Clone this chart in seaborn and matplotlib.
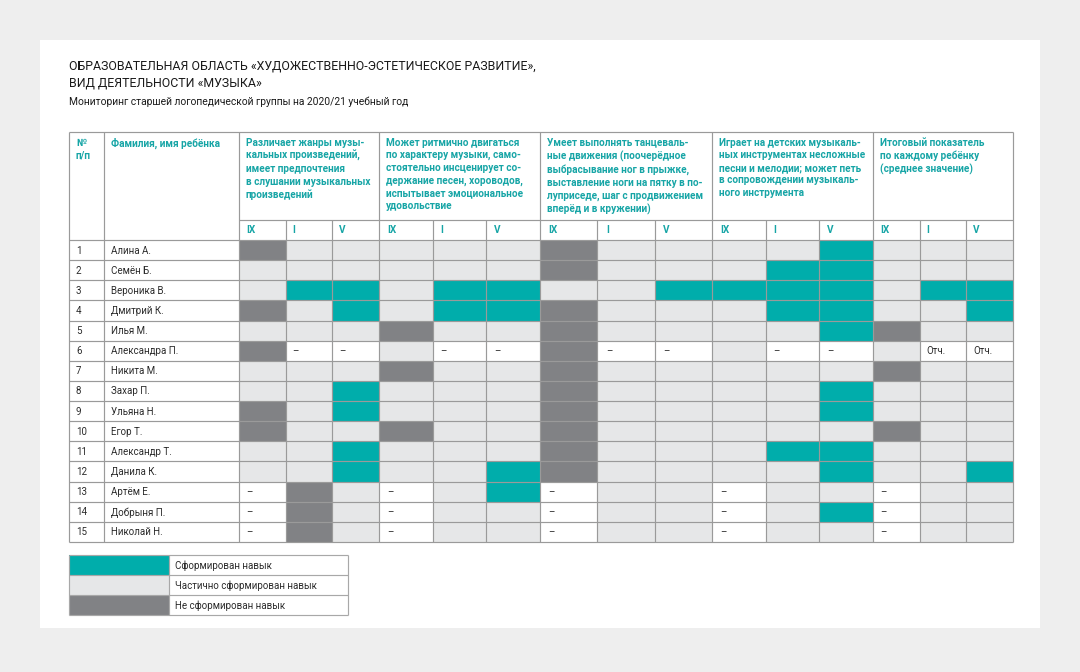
import numpy as np
import matplotlib
matplotlib.use("Agg")
import matplotlib.pyplot as plt
from matplotlib.colors import ListedColormap
from matplotlib.patches import Rectangle
import seaborn as sns

sns.set_style("white")
plt.rcParams['font.family'] = ['Roboto', 'DejaVu Sans']

# ---------------- data ----------------
title_lines = ["ОБРАЗОВАТЕЛЬНАЯ ОБЛАСТЬ «ХУДОЖЕСТВЕННО-ЭСТЕТИЧЕСКОЕ РАЗВИТИЕ»,",
               "ВИД ДЕЯТЕЛЬНОСТИ «МУЗЫКА»"]
subtitle = "Мониторинг старшей логопедической группы на 2020/21 учебный год"

numbers = [str(i) for i in range(1, 16)]
names = ["Алина А.", "Семён Б.", "Вероника В.", "Дмитрий К.", "Илья М.",
         "Александра П.", "Никита М.", "Захар П.", "Ульяна Н.", "Егор Т.",
         "Александр Т.", "Данила К.", "Артём Е.", "Добрыня П.", "Николай Н."]
periods = ["IX", "I", "V"]

skill_titles = [
    "Различает жанры музы-\nкальных произведений,\nимеет предпочтения\nв слушании музыкальных\nпроизведений",
    "Может ритмично двигаться\nпо характеру музыки, само-\nстоятельно инсценирует со-\nдержание песен, хороводов,\nиспытывает эмоциональное\nудовольствие",
    "Умеет выполнять танцеваль-\nные движения (поочерёдное\nвыбрасывание ног в прыжке,\nвыставление ноги на пятку в по-\nлуприседе, шаг с продвижением\nвперёд и в кружении)",
    "Играет на детских музыкаль-\nных инструментах несложные\nпесни и мелодии; может петь\nв сопровождении музыкаль-\nного инструмента",
    "Итоговый показатель\nпо каждому ребёнку\n(среднее значение)",
]

# codes: 2 = сформирован, 1 = частично, 0 = не сформирован, -1 = «–», -2 = «Отч.»
skill1 = [[0, 1, 1], [1, 1, 1], [1, 2, 2], [0, 1, 2], [1, 1, 1],
          [0, -1, -1], [1, 1, 1], [1, 1, 2], [0, 1, 2], [0, 1, 1],
          [1, 1, 2], [1, 1, 2], [-1, 0, 1], [-1, 0, 1], [-1, 0, 1]]
skill2 = [[1, 1, 1], [1, 1, 1], [1, 2, 2], [1, 2, 2], [0, 1, 1],
          [1, -1, -1], [0, 1, 1], [1, 1, 1], [1, 1, 1], [0, 1, 1],
          [1, 1, 1], [1, 1, 2], [-1, 1, 2], [-1, 1, 1], [-1, 1, 1]]
skill3 = [[0, 1, 1], [0, 1, 1], [1, 1, 2], [0, 1, 1], [0, 1, 1],
          [0, -1, -1], [0, 1, 1], [0, 1, 1], [0, 1, 1], [0, 1, 1],
          [0, 1, 1], [0, 1, 1], [-1, 1, 1], [-1, 1, 1], [-1, 1, 1]]
skill4 = [[1, 1, 2], [1, 2, 2], [2, 2, 2], [1, 2, 2], [1, 1, 2],
          [1, -1, -1], [1, 1, 1], [1, 1, 2], [1, 1, 2], [1, 1, 1],
          [1, 2, 2], [1, 1, 2], [-1, 1, 1], [-1, 1, 2], [-1, 1, 1]]
total = [[1, 1, 1], [1, 1, 1], [1, 2, 2], [1, 1, 2], [0, 1, 1],
         [1, -2, -2], [0, 1, 1], [1, 1, 1], [1, 1, 1], [0, 1, 1],
         [1, 1, 1], [1, 1, 2], [-1, 1, 1], [-1, 1, 1], [-1, 1, 1]]
groups = [skill1, skill2, skill3, skill4, total]

legend_codes = [2, 1, 0]
legend_labels = ["Сформирован навык", "Частично сформирован навык", "Не сформирован навык"]
cell_labels = {-1: "–", -2: "Отч."}

# ---------------- style / layout ----------------
W, H = 1080, 672
TEAL = "#00adab"
LIGHT = "#e6e7e8"
DARK = "#818285"
GRID = "#9a9a9a"
HEAD = "#17a5a6"
TXT = "#2b2b2b"
cmap = ListedColormap(["white", "white", DARK, LIGHT, TEAL])

table_left, num_right, name_right = 69, 104, 239
group_edges = [239, 379, 540, 712, 873, 1013]
head_top, sub_top, body_top, body_bot = 132, 220, 240, 542


def frac(x0, y0, x1, y1):
    return [x0 / W, 1 - y1 / H, (x1 - x0) / W, (y1 - y0) / H]


fig = plt.figure(figsize=(W / 100, H / 100), dpi=100, facecolor="#eeeeee")
bg = fig.add_axes([0, 0, 1, 1])
bg.set_xlim(0, W); bg.set_ylim(H, 0); bg.axis("off")
bg.add_patch(Rectangle((40, 40), 1000, 588, facecolor="white", edgecolor="none"))

# data cells via seaborn heatmaps (one per skill group)
for g, vals in enumerate(groups):
    arr = np.array(vals)
    x0, x1 = group_edges[g], group_edges[g + 1]
    ax = fig.add_axes(frac(x0, body_top, x1, body_bot))
    sns.heatmap(arr, ax=ax, cmap=cmap, vmin=-2.5, vmax=2.5, cbar=False,
                linewidths=0, xticklabels=False, yticklabels=False)
    ax.set_xlim(0, arr.shape[1]); ax.set_ylim(arr.shape[0], 0)
    for i in range(arr.shape[0]):
        for j in range(arr.shape[1]):
            if arr[i, j] in cell_labels:
                ax.text(j + 0.15, i + 0.52, cell_labels[arr[i, j]], ha="left", va="center",
                        fontsize=7, color=TXT)
    for j, p in enumerate(periods):
        ax.text(j + 0.15, -0.5, p, ha="left", va="center", fontsize=7.2,
                fontweight="bold", color=HEAD, clip_on=False)

# legend colour blocks
lax = fig.add_axes(frac(69, 555, 169, 615))
sns.heatmap(np.array(legend_codes).reshape(-1, 1), ax=lax, cmap=cmap, vmin=-2.5, vmax=2.5,
            cbar=False, linewidths=0, xticklabels=False, yticklabels=False)

# overlay: grid lines and text
ov = fig.add_axes([0, 0, 1, 1], facecolor="none")
ov.set_xlim(0, W); ov.set_ylim(H, 0); ov.axis("off")
lw = 0.85
row_edges = np.linspace(body_top, body_bot, len(names) + 1)
ov.hlines([head_top], table_left, group_edges[-1], color=GRID, lw=lw)
ov.hlines([sub_top], name_right, group_edges[-1], color=GRID, lw=lw)
ov.hlines(row_edges, table_left, group_edges[-1], color=GRID, lw=lw)
ov.vlines([table_left, num_right, name_right] + group_edges[1:], head_top, body_bot, color=GRID, lw=lw)
for g in range(len(groups)):
    x0, x1 = group_edges[g], group_edges[g + 1]
    sub = np.linspace(x0, x1, len(periods) + 1)[1:-1]
    ov.vlines(sub, sub_top, body_bot, color=GRID, lw=lw)

for i, (n, nm) in enumerate(zip(numbers, names)):
    yc = (row_edges[i] + row_edges[i + 1]) / 2 + 0.5
    ov.text(76, yc, n, ha="left", va="center", fontsize=7, color=TXT)
    ov.text(111, yc, nm, ha="left", va="center", fontsize=7, color=TXT)

hkw = dict(ha="left", va="top", fontsize=7.2, fontweight="bold", color=HEAD, linespacing=1.33)
ov.text(76, 137.5, "№\nп/п", **hkw)
ov.text(111, 137.5, "Фамилия, имя ребёнка", **hkw)
for g, t in enumerate(skill_titles):
    ov.text(group_edges[g] + 7, 137.5, t, **hkw)

# titles
ov.text(69, 66, title_lines[0], ha="left", va="center", fontsize=8.9, color="#1a1a1a")
ov.text(69, 83, title_lines[1], ha="left", va="center", fontsize=8.9, color="#1a1a1a")
ov.text(69, 102, subtitle, ha="left", va="center", fontsize=7.35, color="#1a1a1a")

# legend frame and labels
leg_edges = np.linspace(555, 615, len(legend_labels) + 1)
ov.hlines(leg_edges, 69, 348, color="#a8a8a8", lw=lw)
ov.vlines([69, 169, 348], 555, 615, color="#a8a8a8", lw=lw)
for k, lab in enumerate(legend_labels):
    ov.text(175, (leg_edges[k] + leg_edges[k + 1]) / 2 + 0.5, lab, ha="left", va="center",
            fontsize=7, color=TXT)

fig.savefig("out.png", dpi=100, facecolor=fig.get_facecolor())
